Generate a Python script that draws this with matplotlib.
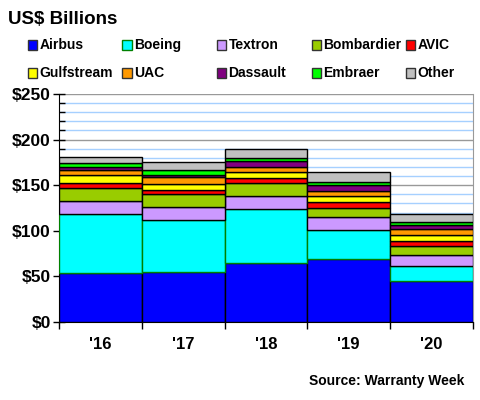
import numpy as np
import matplotlib.pyplot as plt
import matplotlib.patches as patches
from matplotlib.ticker import MultipleLocator, FuncFormatter

plt.rcParams['font.family'] = ['Liberation Sans', 'DejaVu Sans']
plt.rcParams['font.weight'] = 'bold'

# Warranty claims, US$ billions
years = ["'16", "'17", "'18", "'19", "'20"]
companies = ["Airbus", "Boeing", "Textron", "Bombardier", "AVIC",
             "Gulfstream", "UAC", "Dassault", "Embraer", "Other"]
airbus = [54.2, 55.3, 64.2, 68.6, 45.4]
boeing = [64.2, 56.4, 59.3, 32.1, 16.5]
textron = [14.3, 14.4, 14.8, 13.9, 11.1]
bombardier = [14.4, 13.9, 14.4, 10.0, 10.0]
avic = [5.6, 4.9, 5.5, 7.0, 6.2]
gulfstream = [8.0, 6.6, 6.2, 6.2, 6.6]
uac = [6.3, 7.4, 6.0, 6.0, 6.0]
dassault = [2.6, 2.2, 6.6, 5.9, 4.4]
embraer = [4.4, 5.9, 3.3, 4.1, 3.3]
other = [7.4, 8.9, 9.5, 11.0, 8.9]
series = [airbus, boeing, textron, bombardier, avic,
          gulfstream, uac, dassault, embraer, other]

colors = ["#0000ff", "#00ffff", "#cc99ff", "#99cc00", "#ff0000",
          "#ffff00", "#ff9900", "#800080", "#00ff00", "#c0c0c0"]
edges = ["black", "#008000", "black", "black", "black",
         "black", "black", "black", "black", "black"]

fig = plt.figure(figsize=(4.8, 4.0), dpi=100)
ax = fig.add_axes([0.123, 0.195, 0.862, 0.57])

x = np.arange(len(years))
bottom = np.zeros(len(years))
for vals, col, ec in zip(series, colors, edges):
    ax.bar(x, vals, width=1.0, bottom=bottom, color=col,
           edgecolor=ec, linewidth=1.0, zorder=3)
    bottom += np.array(vals)

ax.set_xlim(-0.5, len(years) - 0.5)
ax.set_ylim(0, 250)
ax.yaxis.set_major_locator(MultipleLocator(50))
ax.yaxis.set_minor_locator(MultipleLocator(10))
ax.yaxis.set_major_formatter(FuncFormatter(lambda v, p: f"${int(v)}"))
ax.grid(axis="y", which="minor", color="#a6d0ff", linewidth=1.0, zorder=0)
ax.grid(axis="y", which="major", color="#999999", linewidth=1.0, zorder=1)

ax.set_xticks(x)
ax.set_xticklabels(years, fontsize=12, fontweight="bold")
ax.set_xticks(np.arange(len(years) + 1) - 0.5, minor=True)
ax.tick_params(axis="x", which="major", length=0, pad=11)
ax.tick_params(axis="x", which="minor", length=5, width=1, direction="out")
ax.tick_params(axis="y", which="major", length=8, width=1,
               direction="inout", labelsize=12.5, pad=2)
ax.tick_params(axis="y", which="minor", length=4, width=1, direction="in")
for lab in ax.get_yticklabels():
    lab.set_fontweight("bold")

ax.spines["left"].set_color("black")
ax.spines["bottom"].set_color("black")
ax.spines["top"].set_visible(False)
ax.spines["right"].set_color("#999999")

fig.text(0.016, 0.952, "US$ Billions", fontsize=13.5, fontweight="bold",
         va="center", ha="left")

# legend, two rows of five evenly spaced entries
for i, (name, col, ec) in enumerate(zip(companies, colors, edges)):
    row, c = divmod(i, 5)
    lx = 0.058 + c * 0.197
    ly = 0.887 - row * 0.07
    fig.patches.append(patches.Rectangle((lx, ly - 0.012), 0.019, 0.024,
                                         facecolor=col, edgecolor=ec if ec != "black" else "#333333",
                                         linewidth=1, transform=fig.transFigure))
    fig.text(lx + 0.024, ly, name, fontsize=10, fontweight="bold",
             va="center", ha="left")

fig.text(0.968, 0.047, "Source: Warranty Week", fontsize=10,
         fontweight="bold", ha="right", va="center")

plt.savefig("out.png", dpi=100)
